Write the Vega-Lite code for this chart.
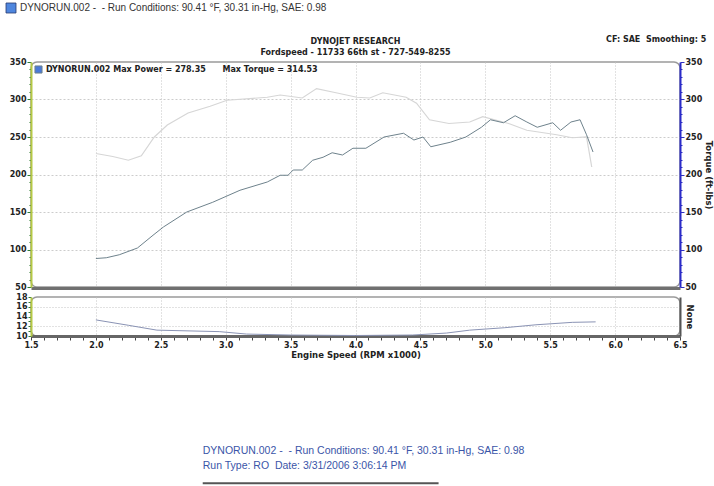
{
  "$schema": "https://vega.github.io/schema/vega-lite/v6.json",
  "background": "white",
  "padding": {"left": 3, "top": 0, "right": 5, "bottom": 0},
  "datasets": {
    "power": [
      {"rpm": 2.0, "v": 88}, {"rpm": 2.08, "v": 89}, {"rpm": 2.18, "v": 93},
      {"rpm": 2.32, "v": 102}, {"rpm": 2.44, "v": 119}, {"rpm": 2.52, "v": 130},
      {"rpm": 2.7, "v": 150}, {"rpm": 2.9, "v": 163}, {"rpm": 3.11, "v": 179},
      {"rpm": 3.32, "v": 190}, {"rpm": 3.42, "v": 199}, {"rpm": 3.48, "v": 199},
      {"rpm": 3.52, "v": 206}, {"rpm": 3.59, "v": 206}, {"rpm": 3.67, "v": 219},
      {"rpm": 3.75, "v": 223}, {"rpm": 3.82, "v": 229}, {"rpm": 3.9, "v": 226},
      {"rpm": 3.98, "v": 235}, {"rpm": 4.08, "v": 235}, {"rpm": 4.22, "v": 250},
      {"rpm": 4.37, "v": 255}, {"rpm": 4.45, "v": 246}, {"rpm": 4.52, "v": 250},
      {"rpm": 4.58, "v": 237}, {"rpm": 4.73, "v": 243}, {"rpm": 4.85, "v": 250},
      {"rpm": 4.97, "v": 263}, {"rpm": 5.04, "v": 273}, {"rpm": 5.14, "v": 269},
      {"rpm": 5.23, "v": 278.35}, {"rpm": 5.32, "v": 270}, {"rpm": 5.4, "v": 263},
      {"rpm": 5.52, "v": 269}, {"rpm": 5.58, "v": 259}, {"rpm": 5.66, "v": 270},
      {"rpm": 5.73, "v": 273}, {"rpm": 5.78, "v": 253}, {"rpm": 5.83, "v": 230}
    ],
    "torque": [
      {"rpm": 2.0, "v": 228}, {"rpm": 2.13, "v": 224}, {"rpm": 2.25, "v": 219},
      {"rpm": 2.35, "v": 225}, {"rpm": 2.45, "v": 250}, {"rpm": 2.55, "v": 266},
      {"rpm": 2.71, "v": 282}, {"rpm": 2.88, "v": 291}, {"rpm": 3.01, "v": 299},
      {"rpm": 3.32, "v": 303}, {"rpm": 3.42, "v": 306}, {"rpm": 3.59, "v": 302},
      {"rpm": 3.7, "v": 314.53}, {"rpm": 3.85, "v": 309}, {"rpm": 4.01, "v": 303},
      {"rpm": 4.11, "v": 302}, {"rpm": 4.21, "v": 309}, {"rpm": 4.39, "v": 303},
      {"rpm": 4.47, "v": 295}, {"rpm": 4.57, "v": 273}, {"rpm": 4.72, "v": 268},
      {"rpm": 4.88, "v": 270}, {"rpm": 4.98, "v": 277}, {"rpm": 5.18, "v": 268},
      {"rpm": 5.32, "v": 259}, {"rpm": 5.55, "v": 253}, {"rpm": 5.67, "v": 249},
      {"rpm": 5.78, "v": 250}, {"rpm": 5.82, "v": 210}
    ],
    "afr": [
      {"rpm": 2.0, "v": 13.3}, {"rpm": 2.25, "v": 12.2}, {"rpm": 2.47, "v": 11.2},
      {"rpm": 2.95, "v": 10.9}, {"rpm": 3.16, "v": 10.4}, {"rpm": 3.5, "v": 10.2},
      {"rpm": 4.0, "v": 10.1}, {"rpm": 4.44, "v": 10.2}, {"rpm": 4.7, "v": 10.6},
      {"rpm": 4.88, "v": 11.2}, {"rpm": 5.15, "v": 11.7}, {"rpm": 5.39, "v": 12.3},
      {"rpm": 5.67, "v": 12.8}, {"rpm": 5.85, "v": 12.9}
    ],
    "notes": [
      {"rpm": 5.93, "v": 379, "label": "CF: SAE\u00a0\u00a0Smoothing: 5"}
    ],
    "header": [
      {"rpm": 1.415, "v": 422, "label": "DYNORUN.002 -\u00a0\u00a0- Run Conditions: 90.41 °F, 30.31 in-Hg, SAE: 0.98"}
    ],
    "icon": [
      {"rpm": 1.346, "v": 422}
    ],
    "footer": [
      {"rpm": 2.823, "v": -13.6, "label": "DYNORUN.002 -\u00a0\u00a0- Run Conditions: 90.41 °F, 30.31 in-Hg, SAE: 0.98"},
      {"rpm": 2.823, "v": -16.7, "label": "Run Type: RO\u00a0\u00a0Date: 3/31/2006 3:06:14 PM"}
    ],
    "underline": [
      {"rpm": 2.823, "rpm2": 4.64, "v": -20.2}
    ]
  },
  "bounds": "flush",
  "spacing": 10,
  "vconcat": [
    {
      "width": 649,
      "height": 225,
      "title": {
        "text": "DYNOJET RESEARCH",
        "subtitle": "Fordspeed - 11733 66th st - 727-549-8255",
        "anchor": "middle",
        "font": "DejaVu Sans",
        "fontSize": 8,
        "fontWeight": "bold",
        "color": "#222222",
        "subtitleFont": "DejaVu Sans",
        "subtitleFontSize": 8,
        "subtitleFontWeight": "bold",
        "subtitleColor": "#222222",
        "subtitlePadding": 3,
        "offset": -56
      },
      "encoding": {
        "x": {
          "field": "rpm",
          "type": "quantitative",
          "scale": {"domain": [1.5, 6.5], "nice": false},
          "axis": {
            "values": [2, 2.5, 3, 3.5, 4, 4.5, 5, 5.5, 6],
            "labels": false,
            "ticks": false,
            "title": null,
            "grid": true,
            "gridColor": "#c4c4c4",
            "gridDash": [1, 2],
            "domainColor": "#707070",
            "domainWidth": 3,
            "offset": 1
          }
        }
      },
      "layer": [
        {
          "data": {"name": "torque"},
          "mark": {"type": "line", "color": "#d6d6d6", "strokeWidth": 1.2},
          "encoding": {
            "y": {
              "field": "v",
              "type": "quantitative",
              "scale": {"domain": [50, 350], "nice": false},
              "axis": {
                "orient": "right",
                "title": "Torque (ft-lbs)",
                "titlePadding": 2,
                "values": [50, 60, 70, 80, 90, 100, 110, 120, 130, 140, 150, 160, 170, 180, 190, 200, 210, 220, 230, 240, 250, 260, 270, 280, 290, 300, 310, 320, 330, 340, 350],
                "labelExpr": "datum.value % 50 == 0 ? datum.label : ''",
                "labelOverlap": false,
                "labelFlush": false,
                "labelPadding": 1,
                "tickSize": {"condition": {"test": "datum.value % 50 == 0", "value": 4}, "value": 2},
                "tickColor": "#3030c0",
                "domainColor": "#2a2ac8",
                "domainWidth": 2,
                "grid": false
              }
            }
          }
        },
        {
          "data": {"name": "power"},
          "mark": {"type": "line", "strokeWidth": 1},
          "encoding": {
            "y": {
              "field": "v",
              "type": "quantitative",
              "scale": {"domain": [50, 350], "nice": false},
              "axis": {
                "orient": "left",
                "title": null,
                "values": [50, 60, 70, 80, 90, 100, 110, 120, 130, 140, 150, 160, 170, 180, 190, 200, 210, 220, 230, 240, 250, 260, 270, 280, 290, 300, 310, 320, 330, 340, 350],
                "labelExpr": "datum.value % 50 == 0 ? datum.label : ''",
                "labelOverlap": false,
                "labelFlush": false,
                "labelPadding": 1,
                "tickSize": {"condition": {"test": "datum.value % 50 == 0", "value": 4}, "value": 2},
                "tickColor": "#2f7a35",
                "domainColor": "#b4c844",
                "domainWidth": 2,
                "grid": true,
                "gridColor": "#cccccc",
                "gridDash": [2, 2],
                "gridOpacity": {"condition": {"test": "datum.value % 50 == 0 && datum.value > 50 && datum.value < 350", "value": 1}, "value": 0}
              }
            },
            "color": {
              "datum": "DYNORUN.002 Max Power = 278.35\u00a0\u00a0\u00a0\u00a0\u00a0\u00a0Max Torque = 314.53",
              "type": "nominal",
              "scale": {"range": ["#6e828c"]},
              "legend": {
                "orient": "top-left",
                "title": null,
                "offset": 3,
                "padding": 0,
                "symbolType": "square",
                "symbolSize": 50,
                "labelFont": "DejaVu Sans",
                "labelFontWeight": "bold",
                "labelFontSize": 8,
                "labelColor": "#222222",
                "labelLimit": 400,
                "labelOffset": 3,
                "encode": {
                  "symbols": {"update": {"fill": {"value": "#4a7ad8"}, "stroke": {"value": "#2a3a70"}, "strokeWidth": {"value": 1}}}
                }
              }
            }
          }
        },
        {
          "data": {"name": "notes"},
          "mark": {"type": "text", "align": "left", "baseline": "middle", "font": "DejaVu Sans", "fontSize": 8, "fontWeight": "bold", "color": "#222222", "clip": false},
          "encoding": {
            "y": {"field": "v", "type": "quantitative", "scale": {"domain": [50, 350], "nice": false}, "axis": null},
            "text": {"field": "label"}
          }
        },
        {
          "data": {"name": "header"},
          "mark": {"type": "text", "align": "left", "baseline": "middle", "font": "Liberation Sans", "fontSize": 10, "color": "#333333", "clip": false},
          "encoding": {
            "y": {"field": "v", "type": "quantitative", "scale": {"domain": [50, 350], "nice": false}, "axis": null},
            "text": {"field": "label"}
          }
        },
        {
          "data": {"name": "icon"},
          "mark": {"type": "point", "shape": "square", "size": 100, "filled": true, "fill": "#4f86de", "stroke": "#2a3a70", "strokeWidth": 0.8, "opacity": 1, "clip": false},
          "encoding": {
            "y": {"field": "v", "type": "quantitative", "scale": {"domain": [50, 350], "nice": false}, "axis": null}
          }
        }
      ],
      "resolve": {"scale": {"y": "independent"}}
    },
    {
      "width": 649,
      "height": 39,
      "encoding": {
        "x": {
          "field": "rpm",
          "type": "quantitative",
          "scale": {"domain": [1.5, 6.5], "nice": false},
          "axis": {
            "values": [1.5, 1.6, 1.7, 1.8, 1.9, 2.0, 2.1, 2.2, 2.3, 2.4, 2.5, 2.6, 2.7, 2.8, 2.9, 3.0, 3.1, 3.2, 3.3, 3.4, 3.5, 3.6, 3.7, 3.8, 3.9, 4.0, 4.1, 4.2, 4.3, 4.4, 4.5, 4.6, 4.7, 4.8, 4.9, 5.0, 5.1, 5.2, 5.3, 5.4, 5.5, 5.6, 5.7, 5.8, 5.9, 6.0, 6.1, 6.2, 6.3, 6.4, 6.5],
            "labelExpr": "abs(datum.value * 2 - round(datum.value * 2)) < 0.01 ? format(datum.value, '.1f') : ''",
            "labelOverlap": false,
            "labelFlush": false,
            "labelPadding": 1,
            "title": "Engine Speed (RPM x1000)",
            "titlePadding": 1,
            "tickSize": 4,
            "tickColor": "#444444",
            "domainColor": "#666666",
            "domainWidth": 3,
            "grid": true,
            "gridColor": "#c4c4c4",
            "gridDash": [1, 2],
            "gridOpacity": {"condition": {"test": "abs(datum.value * 2 - round(datum.value * 2)) < 0.01 && datum.value > 1.6 && datum.value < 6.4", "value": 1}, "value": 0}
          }
        }
      },
      "layer": [
        {
          "data": {"name": "afr"},
          "mark": {"type": "line", "color": "#8a93b4", "strokeWidth": 1},
          "encoding": {
            "y": {
              "field": "v",
              "type": "quantitative",
              "scale": {"domain": [10, 18], "nice": false},
              "axis": {
                "title": null,
                "values": [10, 11, 12, 13, 14, 15, 16, 17, 18],
                "labelExpr": "datum.value % 2 == 0 ? datum.label : ''",
                "labelOverlap": false,
                "labelFlush": false,
                "labelPadding": 1,
                "tickSize": 3,
                "tickColor": "#2f7a35",
                "domainColor": "#b4c844",
                "domainWidth": 2,
                "grid": true,
                "gridColor": "#c4c4c4",
                "gridDash": [1, 2],
                "gridOpacity": {"condition": {"test": "datum.value == 12 || datum.value == 16", "value": 1}, "value": 0}
              }
            }
          }
        },
        {
          "data": {"name": "underline"},
          "mark": {"type": "rule", "color": "#555555", "strokeWidth": 2, "clip": false},
          "encoding": {
            "x2": {"field": "rpm2"},
            "y": {
              "field": "v",
              "type": "quantitative",
              "scale": {"domain": [10, 18], "nice": false},
              "axis": {
                "orient": "right",
                "title": "None",
                "titlePadding": 4,
                "labels": false,
                "ticks": false,
                "domainColor": "#555555",
                "domainWidth": 2,
                "grid": false
              }
            }
          }
        },
        {
          "data": {"name": "footer"},
          "mark": {"type": "text", "align": "left", "baseline": "middle", "font": "Liberation Sans", "fontSize": 10.5, "color": "#3a55a8", "clip": false},
          "encoding": {
            "y": {"field": "v", "type": "quantitative", "scale": {"domain": [10, 18], "nice": false}, "axis": null},
            "text": {"field": "label"}
          }
        }
      ],
      "resolve": {"scale": {"y": "independent"}}
    }
  ],
  "config": {
    "view": {"stroke": "#9a9a9a", "strokeWidth": 1.5, "cornerRadius": 6},
    "axis": {
      "labelFont": "DejaVu Sans",
      "labelFontWeight": "bold",
      "labelFontSize": 8,
      "labelColor": "#222222",
      "titleFont": "DejaVu Sans",
      "titleFontWeight": "bold",
      "titleFontSize": 8.5,
      "titleColor": "#222222"
    }
  }
}
